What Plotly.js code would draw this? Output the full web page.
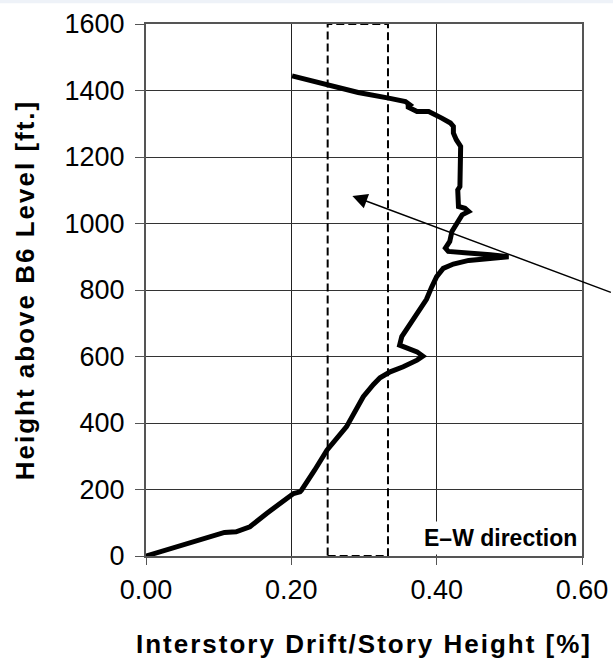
<!DOCTYPE html>
<html>
<head>
<meta charset="utf-8">
<script src="https://cdn.plot.ly/plotly-3.0.1.min.js"></script>
<style>
html,body{margin:0;padding:0;background:#fff;}
#chart{width:613px;height:671px;}
.xtitle, .ytitle { letter-spacing: 2px; }
</style>
</head>
<body>
<div id="chart"></div>
<script>
// Interstory drift profile (E-W direction)
const drift = [0, 0.050, 0.108, 0.124, 0.143, 0.166, 0.189, 0.203, 0.212, 0.214, 0.232, 0.249, 0.276, 0.299, 0.313, 0.322, 0.336, 0.354, 0.373, 0.381, 0.373, 0.357, 0.349, 0.352, 0.361, 0.370, 0.377, 0.386, 0.393, 0.400, 0.409, 0.423, 0.444, 0.474, 0.499, 0.474, 0.442, 0.416, 0.412, 0.418, 0.421, 0.428, 0.435, 0.444, 0.439, 0.430, 0.429, 0.432, 0.433, 0.427, 0.423, 0.423, 0.419, 0.407, 0.389, 0.373, 0.359, 0.363, 0.357, 0.334, 0.292, 0.201];
const height = [0, 33, 71, 73, 88, 128, 168, 188, 193, 198, 258, 318, 389, 479, 516, 536, 554, 569, 589, 601, 614, 625, 634, 660, 690, 720, 740, 772, 808, 840, 865, 878, 889, 895, 900, 906, 911, 916, 926, 946, 976, 1001, 1026, 1036, 1046, 1051, 1101, 1111, 1232, 1252, 1272, 1292, 1302, 1317, 1337, 1337, 1352, 1357, 1367, 1377, 1394, 1444];
// Limit band (dashed box)
const bandX = [0.25, 0.333];
const bandY = [0, 1600];
const xTicks = [0, 0.2, 0.4, 0.6];
const yTicks = [0, 200, 400, 600, 800, 1000, 1200, 1400, 1600];
const arrowHead = [0.284, 1083];
const labelText = 'E\u2013W direction';

const FONT = 'Liberation Sans, Arial, sans-serif';

const trace = {
  x: drift, y: height, type: 'scatter', mode: 'lines',
  line: {color: '#000', width: 5, shape: 'linear'},
  hoverinfo: 'skip', showlegend: false
};

const layout = {
  width: 613, height: 671,
  margin: {l: 146, r: 31, t: 24, b: 115},
  paper_bgcolor: '#fff', plot_bgcolor: '#fff',
  font: {family: FONT, color: '#000'},
  showlegend: false,
  xaxis: {
    range: [0, 0.6], tickvals: xTicks, ticktext: xTicks.map(v => v.toFixed(2)),
    ticks: 'outside', ticklen: 7, tickcolor: '#555', tickwidth: 1,
    showline: true, linecolor: '#555', linewidth: 2, mirror: true,
    showgrid: true, gridcolor: '#222', gridwidth: 1, zeroline: false,
    tickfont: {family: FONT, size: 27, color: '#000'},
    ticklabelstandoff: 2,
    title: {text: 'Interstory Drift/Story Height [%]', font: {family: FONT, size: 26, color: '#000', weight: 'bold'}, standoff: 30},
    fixedrange: true
  },
  yaxis: {
    range: [0, 1600], tickvals: yTicks,
    ticks: 'outside', ticklen: 9, tickcolor: '#555', tickwidth: 1,
    showline: true, linecolor: '#555', linewidth: 2, mirror: true,
    showgrid: true, gridcolor: '#333', gridwidth: 1, zeroline: false,
    tickfont: {family: FONT, size: 27, color: '#000'},
    ticklabelstandoff: 5,
    title: {text: 'Height above B6 Level [ft.]', font: {family: FONT, size: 26, color: '#000', weight: 'bold'}, standoff: 22},
    fixedrange: true
  },
  shapes: [
    {type: 'rect', xref: 'x', yref: 'y', x0: bandX[0], x1: bandX[1], y0: bandY[0], y1: bandY[1],
     line: {color: '#000', width: 2, dash: '8px,4px'}, fillcolor: 'rgba(0,0,0,0)', layer: 'above'},
    {type: 'rect', xref: 'paper', yref: 'paper', x0: -0.4, x1: 1.2, y0: 1.039, y1: 1.1,
     line: {width: 0}, fillcolor: '#eef2f8', layer: 'below'}
  ],
  annotations: [
    {xref: 'x', yref: 'y', x: 0.6, y: 0, xanchor: 'right', yanchor: 'bottom', yshift: 1, xshift: -1,
     text: '<b>' + labelText + '</b>', showarrow: false, bgcolor: '#fff', borderpad: 3,
     font: {family: FONT, size: 23, color: '#000'}},
    {xref: 'x', yref: 'y', x: arrowHead[0], y: arrowHead[1], text: '', showarrow: true,
     ax: 260, ay: 97, axref: 'pixel', ayref: 'pixel',
     arrowhead: 2, arrowsize: 2, arrowwidth: 1.5, arrowcolor: '#000', standoff: 0}
  ]
};

Plotly.newPlot('chart', [trace], layout, {staticPlot: true, displayModeBar: false});
</script>
</body>
</html>
